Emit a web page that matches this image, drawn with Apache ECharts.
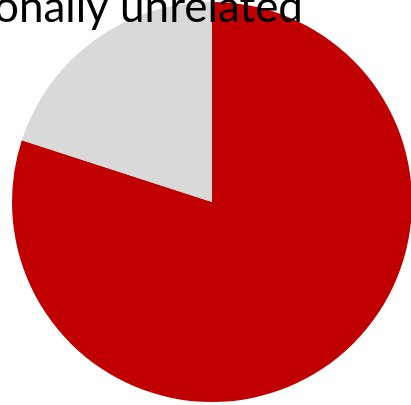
<!DOCTYPE html>
<html>
<head>
<meta charset="utf-8">
<script src="https://cdn.jsdelivr.net/npm/echarts@6/dist/echarts.min.js"></script>
<style>
  html, body { margin: 0; padding: 0; background: #fff; }
  #chart { width: 411px; height: 405px; }
</style>
</head>
<body>
<div id="chart"></div>
<script>
// Share of respondents in each group
const categories = ['Related', 'Unrelated'];
const values = [80, 20];
const colors = ['#C00000', '#D9D9D9'];
const titleText = 'Emotionally unrelated';

const chart = echarts.init(document.getElementById('chart'), null, { renderer: 'canvas' });
chart.setOption({
  animation: false,
  title: {
    text: titleText,
    right: 103,
    top: -19,
    textStyle: { fontFamily: 'Lato', fontSize: 44, fontWeight: 'normal', color: '#000' }
  },
  series: [{
    type: 'pie',
    center: [212, 202],
    radius: 200,
    startAngle: 90,
    clockwise: true,
    label: { show: false },
    labelLine: { show: false },
    emphasis: { disabled: true },
    itemStyle: { borderWidth: 0 },
    data: categories.map((name, i) => ({ name, value: values[i], itemStyle: { color: colors[i] } }))
  }]
});
</script>
</body>
</html>
